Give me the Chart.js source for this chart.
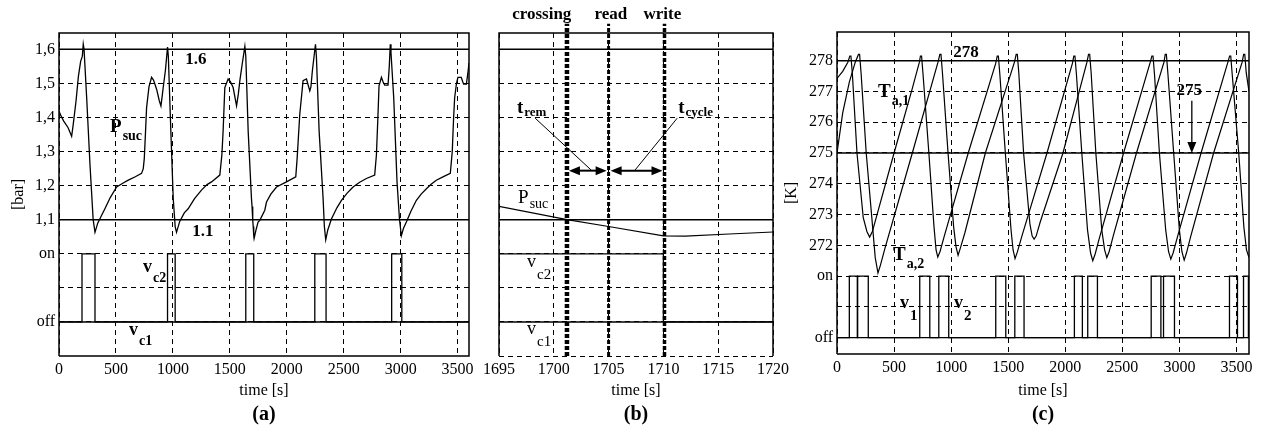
<!DOCTYPE html>
<html>
<head>
<meta charset="utf-8">
<script src="https://cdn.jsdelivr.net/npm/chart.js@4/dist/chart.umd.min.js"></script>
<style>
html, body { margin: 0; padding: 0; background: #fff; }
#wrap { position: relative; width: 1261px; height: 429px; overflow: hidden; }
canvas { position: absolute; top: 0; }
</style>
</head>
<body>
<div id="wrap">
  <canvas id="cA" width="480" height="429" style="left:0px"></canvas>
  <canvas id="cB" width="325" height="429" style="left:470px"></canvas>
  <canvas id="cC" width="491" height="429" style="left:770px"></canvas>
</div>
<script>
// ---- (a) suction pressure [time s, bar] ----
const psucA = [[0,1.42],[10,1.41],[40,1.39],[80,1.37],[111,1.345],[125,1.38],[150,1.45],[170,1.52],[190,1.565],[205,1.58],[213,1.615],[220,1.6],
  [243,1.458],[272,1.262],[300,1.1],[316,1.063],[340,1.09],[370,1.11],[403,1.132],[450,1.165],[506,1.196],[560,1.207],[608,1.216],[670,1.226],
  [725,1.236],[740,1.25],[749,1.28],[760,1.36],[769,1.429],[790,1.49],[813,1.518],[830,1.51],[857,1.483],[880,1.45],[895,1.434],[905,1.46],
  [915,1.488],[935,1.54],[953,1.607],[960,1.58],[982,1.36],[1003,1.162],[1020,1.08],[1032,1.063],[1060,1.095],[1100,1.12],[1134,1.132],
  [1190,1.162],[1251,1.187],[1300,1.203],[1339,1.211],[1412,1.231],[1430,1.29],[1441,1.36],[1456,1.488],[1485,1.513],[1505,1.505],[1529,1.488],
  [1559,1.434],[1575,1.47],[1588,1.508],[1610,1.56],[1632,1.609],[1640,1.58],[1661,1.36],[1690,1.162],[1695,1.139],[1701,1.1],[1705,1.08],
  [1710,1.053],[1713,1.045],[1730,1.07],[1748,1.093],[1763,1.098],[1807,1.128],[1822,1.152],[1860,1.175],[1910,1.196],[1997,1.211],[2079,1.226],
  [2091,1.28],[2114,1.409],[2143,1.508],[2173,1.513],[2202,1.478],[2212,1.49],[2225,1.538],[2252,1.615],[2260,1.58],[2284,1.36],[2319,1.162],
  [2330,1.08],[2342,1.041],[2360,1.07],[2392,1.102],[2440,1.135],[2480,1.157],[2530,1.178],[2582,1.196],[2640,1.21],[2699,1.221],[2772,1.231],
  [2787,1.29],[2800,1.40],[2810,1.493],[2831,1.518],[2845,1.505],[2860,1.495],[2889,1.495],[2900,1.55],[2909,1.615],[2915,1.59],[2939,1.458],
  [2968,1.211],[2990,1.1],[3006,1.053],[3025,1.075],[3050,1.093],[3090,1.125],[3138,1.157],[3180,1.175],[3226,1.191],[3270,1.205],[3313,1.216],
  [3380,1.227],[3436,1.236],[3453,1.30],[3465,1.40],[3474,1.458],[3490,1.50],[3503,1.518],[3532,1.518],[3545,1.505],[3553,1.498],[3577,1.498],
  [3590,1.53],[3600,1.56]];
const vc2OnA = [[202,316],[953,1020],[1640,1710],[2246,2345],[2921,3010]];
const xTicksA = [0,500,1000,1500,2000,2500,3000,3500];
const yTicksA = [0.8,0.9,1.0,1.1,1.2,1.3,1.4,1.5,1.6];
const yLabelsA = ['off','','on','1,1','1,2','1,3','1,4','1,5','1,6'];
const limitsA = [1.6, 1.1];
const levelsA = { on: 1.0, off: 0.8 };

// ---- (b) zoom around the switching event ----
const psucB = [[1695,1.139],[1701.2,1.1],[1705,1.08],[1710,1.0525],[1712,1.052],[1716,1.058],[1720,1.064]];
const vc2OnB = [[1695,1710]];
const xTicksB = [1695,1700,1705,1710,1715,1720];
const yTicksB = [0.7,0.8,0.9,1.0,1.1,1.2,1.3,1.4,1.5,1.6];
const eventNames = ['crossing','read','write'];
const eventTimes = [1701.2,1705,1710.1];

// ---- (c) air temperatures [time s, K] ----
const ta1 = [[0,277.42],[50,277.65],[95,277.95],[112,278.15],[122,278.15],[135,277.55],[175,275.0],[230,272.9],[262,272.45],[286,272.27],
  [310,272.45],[340,272.85],[500,275.0],[660,277.1],[722,277.95],[731,278.15],[741,278.15],[754,277.55],[805,275.0],[850,272.6],[868,271.85],
  [883,271.62],[903,271.8],[940,272.3],[1150,275.0],[1390,277.9],[1404,278.15],[1414,278.15],[1427,277.55],[1475,275.0],[1525,272.5],
  [1543,271.85],[1560,271.57],[1580,271.78],[1620,272.3],[1840,275.0],[2062,277.9],[2075,278.15],[2085,278.15],[2098,277.55],[2145,275.0],
  [2195,272.5],[2222,271.75],[2241,271.5],[2262,271.72],[2300,272.25],[2511,275.0],[2745,277.95],[2759,278.15],[2769,278.15],[2782,277.55],
  [2825,275.0],[2880,272.5],[2905,271.8],[2925,271.55],[2945,271.75],[2985,272.3],[3190,275.0],[3425,277.95],[3440,278.15],[3450,278.15],
  [3463,277.55],[3520,275.0],[3565,272.6],[3588,271.85],[3610,271.6]];
const ta2 = [[0,275.0],[50,276.3],[108,277.3],[160,277.95],[188,278.2],[198,278.2],[211,277.6],[256,275.0],[305,272.9],[335,271.6],[359,271.1],
  [380,271.35],[420,271.9],[660,275.0],[885,277.95],[901,278.2],[911,278.2],[924,277.6],[973,275.0],[1022,272.6],[1043,271.95],[1061,271.68],
  [1080,271.9],[1120,272.4],[1300,275.0],[1555,277.95],[1570,278.2],[1580,278.2],[1593,277.6],[1635,275.0],[1690,272.7],[1710,272.3],
  [1727,272.2],[1745,272.3],[1780,272.75],[1980,275.0],[2190,277.95],[2204,278.2],[2214,278.2],[2227,277.6],[2268,275.0],[2320,272.5],
  [2345,271.85],[2364,271.6],[2385,271.8],[2420,272.3],[2624,275.0],[2865,277.95],[2876,278.2],[2886,278.2],[2899,277.6],[2950,275.0],
  [3000,272.5],[3022,271.8],[3042,271.52],[3062,271.75],[3100,272.3],[3300,275.0],[3550,277.95],[3563,278.2],[3573,278.2],[3586,277.6],
  [3610,277.0]];
const v1On = [[108,178],[725,813],[1391,1479],[2080,2150],[2753,2838],[3439,3509]];
const v2On = [[181,274],[892,979],[1558,1639],[2197,2282],[2861,2957],[3562,3605]];
const xTicksC = [0,500,1000,1500,2000,2500,3000,3500];
const yTicksC = [269,270,271,272,273,274,275,276,277,278];
const yLabelsC = ['off','','on','272','273','274','275','276','277','278'];
const limitsC = [278, 275];
const levelsC = { on: 271, off: 269 };

const SERIF = '"Liberation Serif", "Times New Roman", serif';
const tickFont = { family: SERIF, size: 16 };

const pts = arr => arr.map(([x, y]) => ({ x, y }));
function steps(pulses, x0, x1, lv) {
  const d = [{ x: x0, y: lv.off }];
  pulses.forEach(([a, b]) => d.push({ x: a, y: lv.off }, { x: a, y: lv.on }, { x: b, y: lv.on }, { x: b, y: lv.off }));
  d.push({ x: x1, y: lv.off });
  return d;
}
const hline = (y, x0, x1, w) => ({ data: [{ x: x0, y }, { x: x1, y }], borderWidth: w || 1.5 });

function box(ctx, a, bottom) {
  ctx.save();
  ctx.strokeStyle = '#000'; ctx.lineWidth = 1.5;
  ctx.beginPath();
  ctx.moveTo(a.left, a.bottom); ctx.lineTo(a.left, a.top); ctx.lineTo(a.right, a.top); ctx.lineTo(a.right, a.bottom);
  if (bottom) ctx.lineTo(a.left, a.bottom);
  ctx.stroke();
  ctx.restore();
}
function ctext(ctx, s, x, y, font) {
  ctx.font = font; ctx.fillStyle = '#000';
  ctx.textAlign = 'center'; ctx.textBaseline = 'middle';
  ctx.fillText(s, x, y);
}
function subText(ctx, x, y, main, sub, size, subSize, bold, dy) {
  const w = bold ? 'bold ' : '';
  ctx.fillStyle = '#000'; ctx.textAlign = 'left'; ctx.textBaseline = 'alphabetic';
  ctx.font = w + size + 'px ' + SERIF;
  ctx.fillText(main, x, y);
  const mw = ctx.measureText(main).width;
  ctx.font = w + subSize + 'px ' + SERIF;
  ctx.fillText(sub, x + mw + 1, y + dy);
}
function head(ctx, x, y, dx, dy) {
  // filled triangle with tip at (x,y) pointing along (dx,dy)
  const L = 11, H = 4.5, px = -dy, py = dx;
  ctx.beginPath();
  ctx.moveTo(x, y);
  ctx.lineTo(x - dx * L + px * H, y - dy * L + py * H);
  ctx.lineTo(x - dx * L - px * H, y - dy * L - py * H);
  ctx.closePath(); ctx.fill();
}

function panel(id, o) {
  return new Chart(document.getElementById(id), {
    type: 'line',
    data: { datasets: o.datasets },
    options: {
      responsive: false, animation: false, devicePixelRatio: 1,
      layout: { padding: o.pad },
      plugins: { legend: { display: false }, tooltip: { enabled: false } },
      elements: { point: { radius: 0 }, line: { borderColor: '#000', borderWidth: 1.2, tension: 0, fill: false } },
      scales: {
        x: {
          type: 'linear', min: o.xMin, max: o.xMax,
          afterBuildTicks: ax => { ax.ticks = o.xTicks.map(v => ({ value: v })); },
          afterFit: ax => { ax.height = o.xH; },
          grid: { color: '#000', lineWidth: 1, drawTicks: false },
          border: { display: false, dash: [5, 4] },
          ticks: { color: '#000', font: tickFont, padding: 4, maxRotation: 0, callback: v => String(v) },
          title: { display: true, text: 'time [s]', color: '#000', font: tickFont, padding: { top: 0, bottom: 29 } }
        },
        y: {
          type: 'linear', min: o.yMin, max: o.yMax,
          afterBuildTicks: ax => { ax.ticks = o.yTicks.map(v => ({ value: v })); },
          afterFit: ax => { ax.width = o.yW; },
          grid: { color: '#000', lineWidth: 1, drawTicks: false },
          border: { display: false, dash: [5, 4] },
          ticks: { display: !!o.yLabels, color: '#000', font: tickFont, padding: 4,
                   callback: (v, i) => o.yLabels ? o.yLabels[i] : '' },
          title: { display: !!o.yTitle, text: o.yTitle || '', color: '#000', font: tickFont, padding: { top: o.yTitlePad || 0, bottom: 0 } }
        }
      }
    },
    plugins: [{ id: 'decor', afterDraw: ch => o.decor(ch, ch.ctx, ch.scales.x, ch.scales.y, ch.chartArea) }]
  });
}

// ---------- panel (a) ----------
panel('cA', {
  pad: { left: 0, top: 33, right: 11, bottom: 0 }, xH: 73, yW: 59,
  xMin: 0, xMax: 3600, yMin: 0.7, yMax: 1.648,
  xTicks: xTicksA, yTicks: yTicksA, yLabels: yLabelsA, yTitle: '[bar]', yTitlePad: 9.4,
  datasets: [
    { data: pts(psucA), borderWidth: 1.3 },
    hline(limitsA[0], 0, 3600), hline(limitsA[1], 0, 3600),
    { data: steps(vc2OnA, 0, 3600, levelsA), borderWidth: 1.3 },
    hline(levelsA.off, 0, 3600)
  ],
  decor: (ch, ctx, X, Y, a) => {
    box(ctx, a, true);
    ctext(ctx, '1.6', X.getPixelForValue(1202), Y.getPixelForValue(1.569), 'bold 17px ' + SERIF);
    ctext(ctx, '1.1', X.getPixelForValue(1263), Y.getPixelForValue(1.064), 'bold 17px ' + SERIF);
    subText(ctx, X.getPixelForValue(448), Y.getPixelForValue(1.357), 'P', 'suc', 19, 14, true, 8);
    subText(ctx, X.getPixelForValue(737), Y.getPixelForValue(0.946), 'v', 'c2', 18, 14, true, 10);
    subText(ctx, X.getPixelForValue(614), Y.getPixelForValue(0.762), 'v', 'c1', 18, 14, true, 10);
    ctext(ctx, '(a)', (a.left + a.right) / 2, 415, 'bold 20px ' + SERIF);
  }
});

// ---------- panel (b) ----------
const evWidth = [4.5, 3, 3.5];
panel('cB', {
  pad: { left: 0, top: 33, right: 22, bottom: 0 }, xH: 73, yW: 29,
  xMin: 1695, xMax: 1720, yMin: 0.7, yMax: 1.648,
  xTicks: xTicksB, yTicks: yTicksB, yLabels: null,
  datasets: [
    { data: pts(psucB), borderWidth: 1.2 },
    hline(limitsA[0], 1695, 1720), hline(limitsA[1], 1695, 1720),
    { data: steps(vc2OnB, 1695, 1720, levelsA), borderWidth: 1.3 },
    hline(levelsA.off, 1695, 1720),
    ...eventTimes.map((t, i) => ({ data: [{ x: t, y: 0.7 }, { x: t, y: 1.675 }], borderWidth: evWidth[i], borderDash: [4, 2], clip: false }))
  ],
  decor: (ch, ctx, X, Y, a) => {
    box(ctx, a, false);
    const labelX = [1698.9, 1705.2, 1709.9];
    eventNames.forEach((n, i) => ctext(ctx, n, X.getPixelForValue(labelX[i]), a.top - 18, 'bold 17px ' + SERIF));
    // interval arrows
    const ay = Y.getPixelForValue(1.244);
    ctx.save(); ctx.strokeStyle = '#000'; ctx.fillStyle = '#000'; ctx.lineWidth = 2;
    for (let i = 0; i < 2; i++) {
      const x1 = X.getPixelForValue(eventTimes[i]) + 2, x2 = X.getPixelForValue(eventTimes[i + 1]) - 2;
      ctx.beginPath(); ctx.moveTo(x1 + 8, ay); ctx.lineTo(x2 - 8, ay); ctx.stroke();
      head(ctx, x1, ay, -1, 0); head(ctx, x2, ay, 1, 0);
    }
    ctx.lineWidth = 1;
    ctx.beginPath();
    ctx.moveTo(X.getPixelForValue(1698.3), Y.getPixelForValue(1.398)); ctx.lineTo(X.getPixelForValue(1703.4), Y.getPixelForValue(1.246));
    ctx.moveTo(X.getPixelForValue(1711.26), Y.getPixelForValue(1.398)); ctx.lineTo(X.getPixelForValue(1707.42), Y.getPixelForValue(1.246));
    ctx.stroke(); ctx.restore();
    subText(ctx, X.getPixelForValue(1696.64), Y.getPixelForValue(1.413), 't', 'rem', 19, 13, true, 3);
    subText(ctx, X.getPixelForValue(1711.35), Y.getPixelForValue(1.413), 't', 'cycle', 19, 13, true, 3);
    subText(ctx, X.getPixelForValue(1696.74), Y.getPixelForValue(1.149), 'P', 'suc', 19, 14, false, 5);
    subText(ctx, X.getPixelForValue(1697.56), Y.getPixelForValue(0.961), 'v', 'c2', 18, 15, false, 12);
    subText(ctx, X.getPixelForValue(1697.56), Y.getPixelForValue(0.766), 'v', 'c1', 18, 15, false, 12);
    ctext(ctx, '(b)', (a.left + a.right) / 2, 415, 'bold 20px ' + SERIF);
  }
});

// ---------- panel (c) ----------
panel('cC', {
  pad: { left: 0, top: 32, right: 12, bottom: 0 }, xH: 75, yW: 67,
  xMin: 0, xMax: 3610, yMin: 268.47, yMax: 278.93,
  xTicks: xTicksC, yTicks: yTicksC, yLabels: yLabelsC, yTitle: '[K]', yTitlePad: 12.4,
  datasets: [
    { data: pts(ta1), borderWidth: 1.2 },
    { data: pts(ta2), borderWidth: 1.2 },
    hline(limitsC[0], 0, 3610), hline(limitsC[1], 0, 3610),
    { data: steps(v1On, 0, 3610, levelsC), borderWidth: 1.3 },
    { data: steps(v2On, 0, 3610, levelsC), borderWidth: 1.3 }
  ],
  decor: (ch, ctx, X, Y, a) => {
    box(ctx, a, true);
    ctext(ctx, '278', X.getPixelForValue(1131), Y.getPixelForValue(278.25), 'bold 17px ' + SERIF);
    ctext(ctx, '275', X.getPixelForValue(3086), Y.getPixelForValue(277.01), 'bold 17px ' + SERIF);
    const ax = X.getPixelForValue(3109), y1 = Y.getPixelForValue(276.7), y2 = Y.getPixelForValue(275);
    ctx.save(); ctx.strokeStyle = '#000'; ctx.fillStyle = '#000'; ctx.lineWidth = 1.3;
    ctx.beginPath(); ctx.moveTo(ax, y1); ctx.lineTo(ax, y2 - 6); ctx.stroke();
    head(ctx, ax, y2, 0, 1);
    ctx.restore();
    subText(ctx, X.getPixelForValue(359), Y.getPixelForValue(276.82), 'T', 'a,1', 19, 14, true, 8);
    subText(ctx, X.getPixelForValue(491), Y.getPixelForValue(271.52), 'T', 'a,2', 19, 14, true, 8);
    subText(ctx, X.getPixelForValue(552), Y.getPixelForValue(269.96), 'v', '1', 18, 15, true, 12);
    subText(ctx, X.getPixelForValue(1026), Y.getPixelForValue(269.96), 'v', '2', 18, 15, true, 12);
    ctext(ctx, '(c)', (a.left + a.right) / 2, 415, 'bold 20px ' + SERIF);
  }
});
</script>
</body>
</html>
